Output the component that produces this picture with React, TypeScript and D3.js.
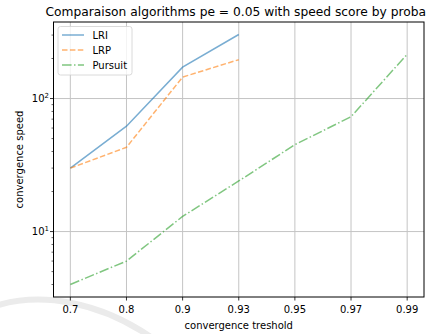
import React from 'react'
import * as d3 from 'd3'

const thresholds = ['0.7', '0.8', '0.9', '0.93', '0.95', '0.97', '0.99']
const lriSpeed = [30, 62, 172, 303]
const lrpSpeed = [30, 43, 145, 196]
const pursuitSpeed = [4, 6, 13, 24, 45, 73, 215]

const series = [
  { name: 'LRI', values: lriSpeed, color: '#1f77b4', dash: '' },
  { name: 'LRP', values: lrpSpeed, color: '#ff7f0e', dash: '5.5,2.4' },
  { name: 'Pursuit', values: pursuitSpeed, color: '#2ca02c', dash: '9.6,2.4,1.5,2.4' },
]

const W = 438
const H = 334
const margin = { top: 22, right: 14, bottom: 37, left: 53.5 }
const font = 'DejaVu Sans, sans-serif'

const App: React.FC = () => {
  const left = margin.left
  const right = W - margin.right
  const top = margin.top
  const bottom = H - margin.bottom

  // matplotlib-style 5% margins
  const x = d3.scaleLinear().domain([-0.3, thresholds.length - 1 + 0.3]).range([left, right])
  const all = series.flatMap(s => s.values)
  const lo = Math.log10(d3.min(all)!)
  const hi = Math.log10(d3.max(all)!)
  const pad = (hi - lo) * 0.05
  const y = d3.scaleLog().domain([10 ** (lo - pad), 10 ** (hi + pad)]).range([bottom, top])

  const majors = [10, 100]
  const minors: number[] = []
  for (let e = 0; e <= 2; e++) {
    for (let k = 2; k <= 9; k++) {
      const v = k * 10 ** e
      if (v >= y.domain()[0] && v <= y.domain()[1]) minors.push(v)
    }
  }

  const line = d3.line<number>().x((_, i) => x(i)).y(d => y(d))

  return (
    <svg width={W} height={H} style={{ position: 'absolute', left: 0, top: 0 }} fontFamily={font}>
      <rect width={W} height={H} fill="#fff" />
      {/* faint watermark swoosh from the source page */}
      <path d="M -5 306 C 40 292 100 300 158 342" fill="none" stroke="#ebebeb" strokeWidth={6} />

      {/* grid */}
      {thresholds.map((_, i) => (
        <line key={'gx' + i} x1={x(i)} x2={x(i)} y1={top} y2={bottom} stroke="#c4c4c4" strokeWidth={1} />
      ))}
      {majors.map(v => (
        <line key={'gy' + v} x1={left} x2={right} y1={y(v)} y2={y(v)} stroke="#c4c4c4" strokeWidth={1} />
      ))}

      {/* lines */}
      {series.map(s => (
        <path key={s.name} d={line(s.values)!} fill="none" stroke={s.color} strokeOpacity={0.6}
          strokeWidth={1.5} strokeDasharray={s.dash || undefined} />
      ))}

      {/* frame */}
      <rect x={left} y={top} width={right - left} height={bottom - top} fill="none" stroke="#000" strokeWidth={1} />

      {/* x axis */}
      {thresholds.map((t, i) => (
        <g key={'xt' + i}>
          <line x1={x(i)} x2={x(i)} y1={bottom} y2={bottom + 3.5} stroke="#000" strokeWidth={0.8} />
          <text x={x(i)} y={bottom + 16} fontSize={10} textAnchor="middle" fill="#000">{t}</text>
        </g>
      ))}
      <text x={(left + right) / 2} y={329} fontSize={10} textAnchor="middle" fill="#000">convergence treshold</text>

      {/* y axis */}
      {majors.map(v => (
        <g key={'yt' + v}>
          <line x1={left - 3.5} x2={left} y1={y(v)} y2={y(v)} stroke="#000" strokeWidth={0.8} />
          <text x={49} y={y(v) + 3.5} fontSize={10} textAnchor="end" fill="#000">
            10<tspan fontSize={7} dy={-4}>{Math.round(Math.log10(v))}</tspan>
          </text>
        </g>
      ))}
      {minors.map(v => (
        <line key={'ym' + v} x1={left - 2} x2={left} y1={y(v)} y2={y(v)} stroke="#000" strokeWidth={0.6} />
      ))}
      <text transform={`translate(23,${(top + bottom) / 2}) rotate(-90)`} fontSize={10} textAnchor="middle" fill="#000">
        convergence speed
      </text>

      {/* title */}
      <text x={45.5} y={16} fontSize={12.25} fill="#000">Comparaison algorithms pe = 0.05 with speed score by proba</text>

      {/* legend */}
      <g transform={`translate(${left + 4.5},${top + 4.5})`}>
        <rect width={74} height={48.5} rx={2.5} fill="#fff" fillOpacity={0.8} stroke="#d0d0d0" strokeWidth={0.8} />
        {series.map((s, i) => (
          <g key={'lg' + s.name} transform={`translate(0,${8.5 + i * 15})`}>
            <line x1={4} x2={26} y1={0} y2={0} stroke={s.color} strokeOpacity={0.6} strokeWidth={1.5}
              strokeDasharray={s.dash || undefined} />
            <text x={34.5} y={3.6} fontSize={10} fill="#000">{s.name}</text>
          </g>
        ))}
      </g>
    </svg>
  )
}

export default App
